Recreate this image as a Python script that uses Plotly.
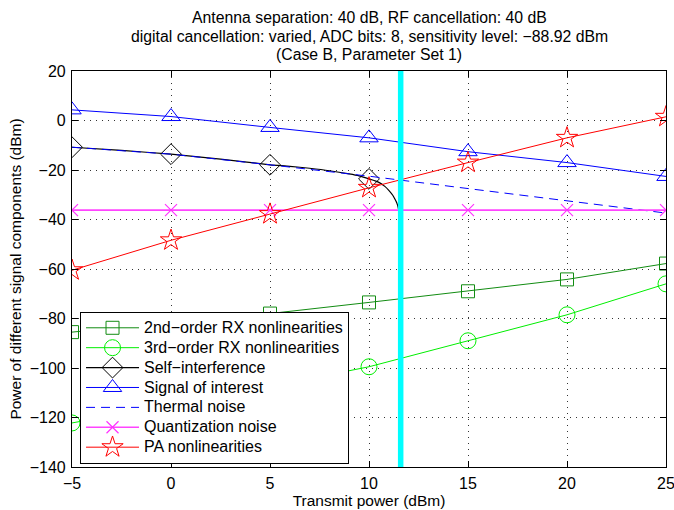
import plotly.graph_objects as go

# ---- data ----
tx_power = [-5, 0, 5, 10, 15, 20, 25]
rx2_nonlin = [-85.5, -81.8, -78.0, -73.5, -69.0, -64.2, -57.8]
rx3_nonlin = [-122.2, -115.0, -107.5, -99.5, -89.0, -78.5, -66.0]
self_int_marker_x = [-5, 0, 5, 10]
self_int_x = [-5, -2.5, 0, 2.5, 5, 6, 7, 8, 9, 9.5, 10, 10.5, 10.8, 11.0, 11.2, 11.3, 11.4, 11.45, 11.5]
self_int_y = [-10.8, -12.1, -13.6, -15.6, -17.9, -18.5, -19.3, -20.3, -21.6, -22.4, -23.6,
              -25.0, -26.6, -28.2, -30.2, -31.6, -33.2, -34.4, -36.2]
signal_of_interest = [4.3, 1.6, -2.8, -7.0, -12.6, -17.0, -22.6]
thermal_noise = [-10.8, -13.6, -17.9, -22.5, -27.5, -32.3, -37.4]
quant_noise = [-36.2, -36.2, -36.2, -36.2, -36.2, -36.2, -36.2]
pa_nonlin = [-60.5, -48.4, -37.8, -27.2, -17.0, -7.0, 1.5]
cyan_x = 11.6
y_range = [-140, 20]
y_ticks = [-140, -120, -100, -80, -60, -40, -20, 0, 20]

title_lines = [
    "Antenna separation: 40 dB, RF cancellation: 40 dB",
    "digital cancellation: varied, ADC bits: 8, sensitivity level: \u221288.92 dBm",
    "(Case B, Parameter Set 1)",
]
legend_names = [
    "2nd\u2212order RX nonlinearities",
    "3rd\u2212order RX nonlinearities",
    "Self\u2212interference",
    "Signal of interest",
    "Thermal noise",
    "Quantization noise",
    "PA nonlinearities",
]

FONT = "Liberation Sans, Arial, Helvetica, sans-serif"


def lname(s):
    return '<span style="font-size:16px">' + s + '</span>'


si_colors = ["black" if x in self_int_marker_x else "rgba(0,0,0,0)" for x in self_int_x]

fig = go.Figure()

fig.add_trace(go.Scatter(
    x=tx_power, y=rx2_nonlin, mode="lines+markers", name=lname(legend_names[0]),
    line=dict(color="#128c12", width=1),
    marker=dict(symbol="square-open", size=13, color="#128c12", line=dict(width=1))))
fig.add_trace(go.Scatter(
    x=tx_power, y=rx3_nonlin, mode="lines+markers", name=lname(legend_names[1]),
    line=dict(color="#00ee00", width=1),
    marker=dict(symbol="circle-open", size=16, color="#00ee00", line=dict(width=1))))
fig.add_trace(go.Scatter(
    x=self_int_x, y=self_int_y, mode="lines+markers", name=lname(legend_names[2]),
    line=dict(color="black", width=1.2, shape="spline", smoothing=0.6),
    marker=dict(symbol="diamond-open", size=16, color=si_colors, line=dict(width=1))))
fig.add_trace(go.Scatter(
    x=tx_power, y=signal_of_interest, mode="lines+markers", name=lname(legend_names[3]),
    line=dict(color="#0000ff", width=1),
    marker=dict(symbol="triangle-up-open", size=16, color="#0000ff", line=dict(width=1))))
fig.add_trace(go.Scatter(
    x=tx_power, y=thermal_noise, mode="lines", name=lname(legend_names[4]),
    line=dict(color="#0000ff", width=1, dash="9px,6px")))
fig.add_trace(go.Scatter(
    x=tx_power, y=quant_noise, mode="lines+markers", name=lname(legend_names[5]),
    line=dict(color="#ff44ff", width=1.6),
    marker=dict(symbol="x-thin-open", size=12, color="#ff33ff", line=dict(width=1.2, color="#ff33ff"))))
fig.add_trace(go.Scatter(
    x=tx_power, y=pa_nonlin, mode="lines+markers", name=lname(legend_names[6]),
    line=dict(color="#ff0000", width=1),
    marker=dict(symbol="star-open", size=16, color="#ff0000", line=dict(width=1))))
fig.add_trace(go.Scatter(
    x=[cyan_x, cyan_x], y=y_range, mode="lines", showlegend=False,
    line=dict(color="#00ffff", width=5.5)))

# title lines as annotations (paper coords relative to plot area)
PLOT_TOP, PLOT_BOTTOM = 71, 467
for txt, ypix in zip(title_lines, [17.5, 36.5, 55]):
    fig.add_annotation(
        text=txt, x=0.5, xref="paper", xanchor="center",
        y=(PLOT_BOTTOM - ypix) / (PLOT_BOTTOM - PLOT_TOP), yref="paper", yanchor="middle",
        showarrow=False, font=dict(family=FONT, size=15.8, color="black"))

fig.update_layout(
    width=674, height=510,
    margin=dict(l=72, r=8, t=PLOT_TOP, b=510 - PLOT_BOTTOM),
    paper_bgcolor="white", plot_bgcolor="white",
    font=dict(family=FONT, size=16, color="black"),
    legend=dict(x=0.0135, y=0.008, xanchor="left", yanchor="bottom",
                bgcolor="white", bordercolor="black", borderwidth=1,
                font=dict(family=FONT, size=13), tracegroupgap=0, itemwidth=53),
    showlegend=True,
)
fig.update_xaxes(
    range=[-5, 25], tickvals=tx_power, ticks="inside", ticklen=6, tickcolor="black",
    showline=True, linecolor="black", linewidth=1.2, mirror="ticks", automargin=False,
    showgrid=True, gridcolor="#333333", griddash="1px,5px", gridwidth=1, zeroline=False,
    title=dict(text="Transmit power (dBm)", standoff=0, font=dict(size=15.5)),
    tickfont=dict(size=16), ticklabelstandoff=2, ticklabeloverflow="allow")
fig.update_yaxes(
    range=y_range, tickvals=y_ticks, ticks="inside", ticklen=6, tickcolor="black",
    showline=True, linecolor="black", linewidth=1.2, mirror="ticks", automargin=False,
    showgrid=True, gridcolor="#333333", griddash="1px,5px", gridwidth=1, zeroline=False,
    title=dict(text="Power of different signal components (dBm)", standoff=4, font=dict(size=15.5)),
    tickfont=dict(size=16), ticklabelstandoff=2, ticklabeloverflow="allow")

fig.write_html("out.html", config={"displayModeBar": False},
               post_script="document.body.style.margin='0';document.body.style.overflow='hidden';")
